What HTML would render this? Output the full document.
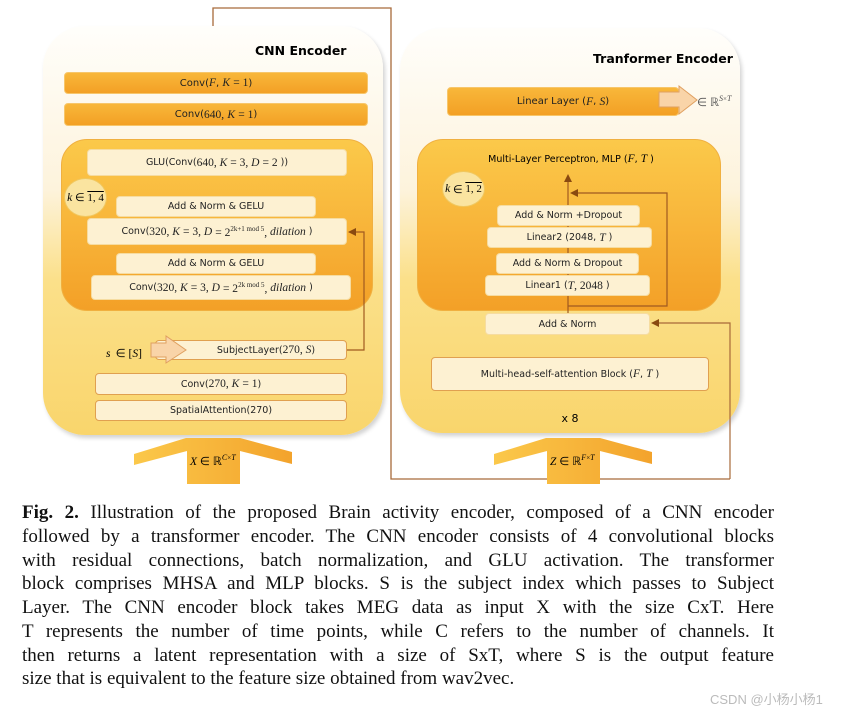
<!DOCTYPE html>
<html><head><meta charset="utf-8">
<style>
*{margin:0;padding:0;box-sizing:border-box}
body{width:847px;height:713px;background:#fff;position:relative;overflow:hidden;font-family:"DejaVu Sans","Liberation Sans",sans-serif}
.a{position:absolute}
.panel{position:absolute;border-radius:42px;background:linear-gradient(180deg,#fffefb 0%,#fdf3dc 40%,#fbe08a 62%,#f9d56c 100%);box-shadow:2px 3px 4px rgba(0,0,0,.18)}
.bar{position:absolute;background:linear-gradient(180deg,#f8b73a,#f3a025);border:1.5px solid #f7c66a;border-radius:4px;font-size:10px;color:#222;display:flex;align-items:center;justify-content:center}
.inner{position:absolute;border-radius:26px;background:linear-gradient(180deg,#fbc94a 0%,#f8b53a 50%,#f3a027 100%);border:1.5px solid #f0b040}
.box{position:absolute;background:#fdf1d2;border:1px solid #f6dca0;border-radius:4px;font-size:9.5px;color:#222;display:flex;align-items:center;justify-content:center;white-space:nowrap}
.box.o{border:1.2px solid #e0a050}
.k{position:absolute;border-radius:50%;background:#fae4a0;border:1px solid #f0c860;font-family:"Liberation Serif",serif;font-size:11px;display:flex;align-items:center;justify-content:center}
i{font-family:"Liberation Serif",serif;font-style:italic;font-size:11.5px}
.m{font-family:"Liberation Serif",serif;font-size:11.5px}
.cap{position:absolute;left:22px;width:752px;font-family:"Liberation Serif",serif;font-size:19px;color:#111;text-align:justify;text-align-last:justify;white-space:nowrap;line-height:23.7px}
</style></head><body>

<div class="panel" style="left:43px;top:26px;width:340px;height:409px"></div>
<div class="panel" style="left:400px;top:28px;width:340px;height:405px"></div>

<svg class="a" style="left:0;top:0" width="847" height="490">
<polyline points="213,26 213,8 391,8 391,479 548,479" fill="none" stroke="#a86a3a" stroke-width="1.3"/>
<polygon points="548,474 556,479 548,484" fill="#8a4a10"/>
</svg>

<div class="a" style="left:255px;top:43px;font-weight:bold;font-size:12.5px">CNN Encoder</div>
<div class="bar" style="left:64px;top:72px;width:304px;height:22px">Conv(<i>F</i>,&nbsp;<i>K</i>&nbsp;<span class="m">= 1</span>)</div>
<div class="bar" style="left:64px;top:103px;width:304px;height:23px">Conv(<span class="m">640,</span>&nbsp;<i>K</i>&nbsp;<span class="m">= 1</span>)</div>

<div class="inner" style="left:61px;top:139px;width:312px;height:172px"></div>
<div class="box" style="left:87px;top:149px;width:260px;height:27px">GLU(Conv(<span class="m">640,&nbsp;</span><i>K</i>&nbsp;<span class="m">= 3,&nbsp;</span><i>D</i>&nbsp;<span class="m">= 2</span>&nbsp;))</div>
<div class="k" style="left:64px;top:178px;width:43px;height:39px"><i>k</i>&nbsp;∈&nbsp;<span style="text-decoration:overline">1,&nbsp;4</span></div>
<div class="box" style="left:116px;top:196px;width:200px;height:21px">Add &amp; Norm &amp; GELU</div>
<div class="box" style="left:87px;top:218px;width:260px;height:27px">Conv(<span class="m">320,&nbsp;</span><i>K</i>&nbsp;<span class="m">= 3,&nbsp;</span><i>D</i>&nbsp;<span class="m">= 2<sup style="font-size:7px">2k+1 mod 5</sup>,&nbsp;</span><i>dilation</i>&nbsp;)</div>
<div class="box" style="left:116px;top:253px;width:200px;height:21px">Add &amp; Norm &amp; GELU</div>
<div class="box" style="left:91px;top:275px;width:260px;height:25px">Conv(<span class="m">320,&nbsp;</span><i>K</i>&nbsp;<span class="m">= 3,&nbsp;</span><i>D</i>&nbsp;<span class="m">= 2<sup style="font-size:7px">2k mod 5</sup>,&nbsp;</span><i>dilation</i>&nbsp;)</div>

<div class="a" style="left:106px;top:342px"><i>s</i>&nbsp;<span class="m">∈ [</span><i>S</i><span class="m">]</span></div>
<div class="box o" style="left:155px;top:340px;width:192px;height:20px;padding-left:30px">SubjectLayer(<span class="m">270,&nbsp;</span><i>S</i>)</div>
<svg class="a" style="left:0;top:0" width="400" height="440">
<polygon points="151,343 166,343 166,336 186,350 166,363 166,357 151,357" fill="#f9d4a8" stroke="#e0a060" stroke-width="1"/>
<polyline points="347,350 364,350 364,232 352,232" fill="none" stroke="#a05a20" stroke-width="1.2"/>
<polygon points="348,232 356,228 356,236" fill="#8a4a10"/>
</svg>
<div class="box o" style="left:95px;top:373px;width:252px;height:22px">Conv(<span class="m">270,&nbsp;</span><i>K</i>&nbsp;<span class="m">= 1</span>)</div>
<div class="box o" style="left:95px;top:400px;width:252px;height:21px">SpatialAttention(270)</div>

<div class="a" style="left:593px;top:51px;font-weight:bold;font-size:12.5px">Tranformer Encoder</div>
<div class="bar" style="left:447px;top:87px;width:232px;height:29px">Linear Layer (<i>F</i>,&nbsp;<i>S</i>)</div>
<svg class="a" style="left:640px;top:80px" width="110" height="45">
<polygon points="19,12 39,12 39,6 57,20 39,34 39,27 19,27" fill="#f9d4a8" stroke="#e0a060" stroke-width="1"/>
</svg>
<div class="a" style="left:697px;top:91px;color:#555"><span class="m">∈ ℝ<sup style="font-size:7px"><i style="font-size:8px">S</i>×<i style="font-size:8px">T</i></sup></span></div>

<div class="inner" style="left:417px;top:139px;width:304px;height:172px"></div>
<div class="a" style="left:417px;top:153px;width:308px;text-align:center;font-size:9.5px">Multi-Layer Perceptron, MLP (<i>F</i>,&nbsp;<i>T</i>&nbsp;)</div>
<div class="k" style="left:442px;top:171px;width:43px;height:36px"><i>k</i>&nbsp;∈&nbsp;<span style="text-decoration:overline">1,&nbsp;2</span></div>
<svg class="a" style="left:0;top:0" width="847" height="490">
<polyline points="568,322 568,180" fill="none" stroke="#a05a20" stroke-width="1.2"/>
<polygon points="568,174 564,182 572,182" fill="#8a4a10"/>
<polyline points="568,306 667,306 667,193 574,193" fill="none" stroke="#a05a20" stroke-width="1.2"/>
<polygon points="570,193 578,189 578,197" fill="#8a4a10"/>
<polyline points="730,479 730,323 656,323" fill="none" stroke="#a86a3a" stroke-width="1.2"/>
<polygon points="651,323 659,319 659,327" fill="#8a4a10"/>
<polyline points="548,479 730,479" fill="none" stroke="#a86a3a" stroke-width="1.2"/>
</svg>
<div class="box" style="left:497px;top:205px;width:143px;height:21px">Add &amp; Norm +Dropout</div>
<div class="box" style="left:487px;top:227px;width:165px;height:21px">Linear2 (2048,&nbsp;<i>T</i>&nbsp;)</div>
<div class="box" style="left:496px;top:253px;width:143px;height:21px">Add &amp; Norm &amp; Dropout</div>
<div class="box" style="left:485px;top:275px;width:165px;height:21px">Linear1 (<i>T</i><span class="m">,&nbsp;2048</span>&nbsp;)</div>
<div class="box" style="left:485px;top:313px;width:165px;height:22px">Add &amp; Norm</div>
<div class="box o" style="left:431px;top:357px;width:278px;height:34px">Multi-head-self-attention Block (<i>F</i>,&nbsp;<i>T</i>&nbsp;)</div>
<div class="a" style="left:540px;top:412px;width:60px;text-align:center;font-size:11px">x 8</div>

<svg class="a" style="left:0;top:0" width="847" height="490">
<defs><linearGradient id="g" x1="0" x2="1"><stop offset="0" stop-color="#fbc84a"/><stop offset="1" stop-color="#f3a32c"/></linearGradient></defs>
<polygon points="134,454 186,438 240,438 292,452 292,464 240,451 240,484 187,484 187,451 134,465" fill="url(#g)"/>
<polygon points="494,454 546,438 600,438 652,452 652,464 600,451 600,484 547,484 547,451 494,465" fill="url(#g)"/>
</svg>
<div class="a" style="left:190px;top:453px;font-size:11px"><i>X</i><span class="m">&nbsp;∈ ℝ<sup style="font-size:7px"><i style="font-size:8px">C</i>×<i style="font-size:8px">T</i></sup></span></div>
<div class="a" style="left:550px;top:453px;font-size:11px"><i>Z</i><span class="m">&nbsp;∈ ℝ<sup style="font-size:7px"><i style="font-size:8px">F</i>×<i style="font-size:8px">T</i></sup></span></div>

<div class="cap" style="top:501px"><b>Fig. 2.</b> Illustration of the proposed Brain activity encoder, composed of a CNN encoder</div>
<div class="cap" style="top:525px">followed by a transformer encoder. The CNN encoder consists of 4 convolutional blocks</div>
<div class="cap" style="top:549px">with residual connections, batch normalization, and GLU activation. The transformer</div>
<div class="cap" style="top:572px">block comprises MHSA and MLP blocks. S is the subject index which passes to Subject</div>
<div class="cap" style="top:596px">Layer. The CNN encoder block takes MEG data as input X with the size CxT. Here</div>
<div class="cap" style="top:620px">T represents the number of time points, while C refers to the number of channels. It</div>
<div class="cap" style="top:644px">then returns a latent representation with a size of SxT, where S is the output feature</div>
<div class="cap" style="top:667px;text-align-last:left">size that is equivalent to the feature size obtained from wav2vec.</div>
<div class="a" style="left:710px;top:689px;font-size:13px;color:#bbb;font-family:'Liberation Sans','Noto Sans CJK SC',sans-serif">CSDN @小杨小杨1</div>
</body></html>
